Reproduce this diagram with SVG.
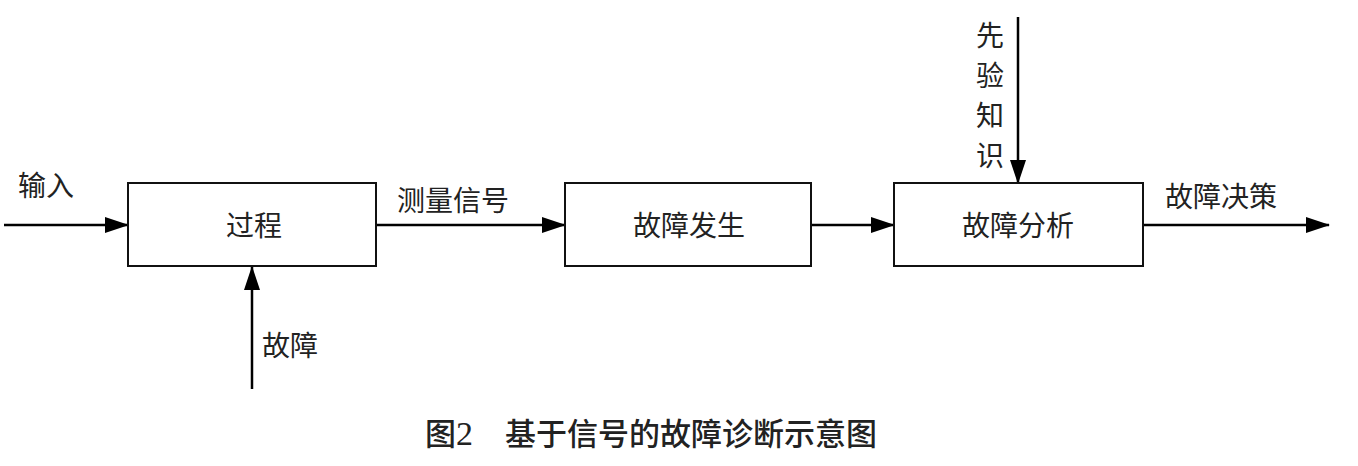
<svg xmlns="http://www.w3.org/2000/svg" width="1358" height="466" viewBox="0 0 1358 466">
<style>
.box{fill:#fff;stroke:#111;stroke-width:2}
.ln{stroke:#000;stroke-width:2.5;fill:none}
.t{font-family:"Liberation Serif","Noto Sans CJK SC",serif;font-size:28px;fill:#222}
.cap{font-family:"Liberation Serif","Noto Sans CJK SC",sans-serif;font-size:31px;fill:#222;font-weight:500}
</style>
<defs>
<marker id="ah" markerWidth="24" markerHeight="16" refX="23" refY="8" orient="auto" markerUnits="userSpaceOnUse">
<path d="M0,0 L24,8 L0,16 Z" fill="#000"/>
</marker>
</defs>
<rect width="1358" height="466" fill="#fff"/>
<g id="connectors">
<line class="ln" x1="4" y1="225" x2="128" y2="225" marker-end="url(#ah)"/>
<line class="ln" x1="252" y1="389" x2="252" y2="267" marker-end="url(#ah)"/>
<line class="ln" x1="376" y1="225" x2="565" y2="225" marker-end="url(#ah)"/>
<line class="ln" x1="811" y1="225" x2="894" y2="225" marker-end="url(#ah)"/>
<line class="ln" x1="1018" y1="17" x2="1018" y2="183" marker-end="url(#ah)"/>
<line class="ln" x1="1143" y1="225" x2="1329" y2="225" marker-end="url(#ah)"/>
<text class="t" x="18" y="196">输入</text>
<text class="t" x="262" y="356">故障</text>
<text class="t" x="397" y="211">测量信号</text>
<text class="t" x="1165" y="207">故障决策</text>
<text class="t" x="976" y="46">先</text>
<text class="t" x="976" y="86">验</text>
<text class="t" x="976" y="126">知</text>
<text class="t" x="976" y="166">识</text>
</g>
<g id="n1"><rect class="box" x="128" y="183" width="248" height="83"/><text class="t" x="254" y="236" text-anchor="middle">过程</text></g>
<g id="n2"><rect class="box" x="565" y="183" width="246" height="83"/><text class="t" x="689" y="236" text-anchor="middle">故障发生</text></g>
<g id="n3"><rect class="box" x="894" y="183" width="249" height="83"/><text class="t" x="1018" y="236" text-anchor="middle">故障分析</text></g>
<text class="cap" x="425" y="445">图<tspan font-size="34">2</tspan></text>
<text class="cap" x="505" y="445">基于信号的故障诊断示意图</text>
</svg>
